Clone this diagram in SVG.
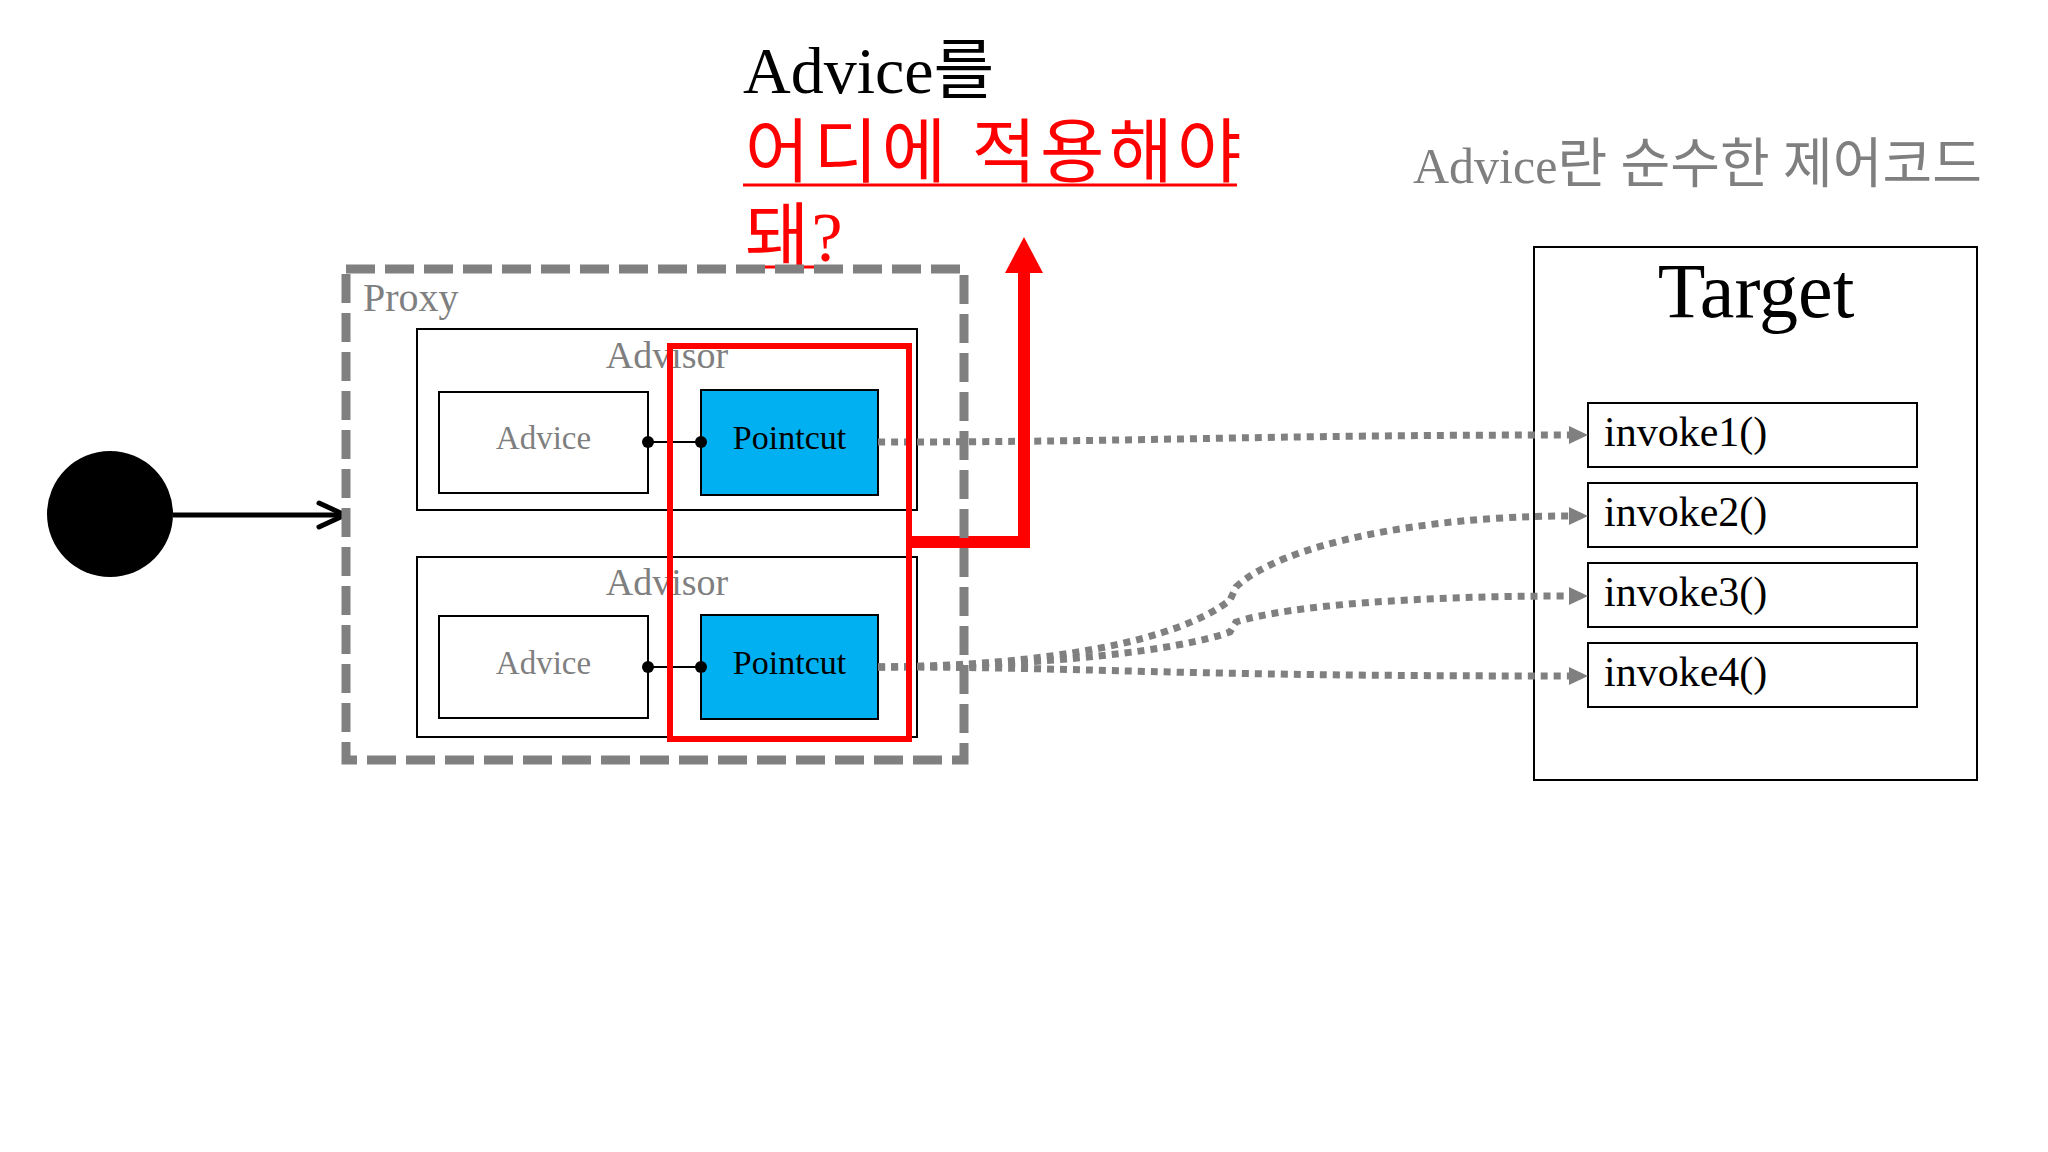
<svg xmlns="http://www.w3.org/2000/svg" width="2048" height="1152" viewBox="0 0 2048 1152">
  <defs>
    <style>
      .serif { font-family: 'Liberation Serif', 'Noto Sans CJK KR', serif; }
      .gray { fill: #7f7f7f; }
      .box { fill: #ffffff; stroke: #000000; stroke-width: 2; }
      .pc { fill: #00b0f0; stroke: #000000; stroke-width: 2; }
      .dot { fill: #000000; }
      .dotted { fill: none; stroke: #808080; stroke-width: 7; stroke-dasharray: 7 6; }
      .link { stroke: #000000; stroke-width: 2; }
      .uline { stroke: #ff0000; stroke-width: 3; }
    </style>
    <marker id="tri" viewBox="0 0 19 18" refX="0" refY="9" markerWidth="19" markerHeight="18" markerUnits="userSpaceOnUse" orient="auto">
      <path d="M0,0 L19,9 L0,18 Z" fill="#808080"/>
    </marker>
  </defs>
  <rect x="0" y="0" width="2048" height="1152" fill="#ffffff"/>

  <g id="title">
    <text class="serif" x="743" y="93" font-size="66" fill="#000000">Advice를</text>
    <text class="serif" x="745" y="177" font-size="70" fill="#ff0000" letter-spacing="4">어디에 적용해야</text>
    <line class="uline" x1="743" y1="185" x2="1237" y2="185"/>
    <text class="serif" x="745" y="261" font-size="70" fill="#ff0000" letter-spacing="2">돼?</text>
    <line class="uline" x1="743" y1="267" x2="840" y2="267"/>
  </g>

  <g id="note">
    <text class="serif gray" x="1413" y="183" font-size="50">Advice<tspan font-size="54">란 순수한 제어코드</tspan></text>
  </g>

  <g id="client">
    <circle cx="110" cy="514" r="63" fill="#000000"/>
  </g>

  <g id="advisor1">
    <rect class="box" x="417" y="329" width="500" height="181"/>
    <text class="serif gray" x="667" y="368" font-size="38" text-anchor="middle">Advisor</text>
  </g>
  <g id="advice1">
    <rect class="box" x="439" y="392" width="209" height="101"/>
    <text class="serif gray" x="543.5" y="449" font-size="33" text-anchor="middle">Advice</text>
  </g>
  <g id="pointcut1">
    <rect class="pc" x="701" y="390" width="177" height="105"/>
    <text class="serif" x="789.5" y="449" font-size="34" text-anchor="middle" fill="#000000">Pointcut</text>
  </g>

  <g id="advisor2">
    <rect class="box" x="417" y="557" width="500" height="180"/>
    <text class="serif gray" x="667" y="595" font-size="38" text-anchor="middle">Advisor</text>
  </g>
  <g id="advice2">
    <rect class="box" x="439" y="616" width="209" height="102"/>
    <text class="serif gray" x="543.5" y="674" font-size="33" text-anchor="middle">Advice</text>
  </g>
  <g id="pointcut2">
    <rect class="pc" x="701" y="615" width="177" height="104"/>
    <text class="serif" x="789.5" y="674" font-size="34" text-anchor="middle" fill="#000000">Pointcut</text>
  </g>

  <g id="target">
    <rect x="1534" y="247" width="443" height="533" fill="none" stroke="#000000" stroke-width="2"/>
    <text class="serif" x="1756" y="317" font-size="78" text-anchor="middle" fill="#000000">Target</text>
  </g>
  <g id="invoke1">
    <rect class="box" x="1588" y="403" width="329" height="64"/>
    <text class="serif" x="1604" y="446" font-size="42" fill="#000000">invoke1()</text>
  </g>
  <g id="invoke2">
    <rect class="box" x="1588" y="483" width="329" height="64"/>
    <text class="serif" x="1604" y="526" font-size="42" fill="#000000">invoke2()</text>
  </g>
  <g id="invoke3">
    <rect class="box" x="1588" y="563" width="329" height="64"/>
    <text class="serif" x="1604" y="606" font-size="42" fill="#000000">invoke3()</text>
  </g>
  <g id="invoke4">
    <rect class="box" x="1588" y="643" width="329" height="64"/>
    <text class="serif" x="1604" y="686" font-size="42" fill="#000000">invoke4()</text>
  </g>

  <g id="connectors">
    <line class="link" x1="648" y1="442" x2="701" y2="442"/>
    <circle class="dot" cx="648" cy="442" r="6"/>
    <circle class="dot" cx="701" cy="442" r="6"/>
    <line class="link" x1="648" y1="667" x2="701" y2="667"/>
    <circle class="dot" cx="648" cy="667" r="6"/>
    <circle class="dot" cx="701" cy="667" r="6"/>

    <path class="dotted" d="M878,442 C1150,442 1250,435 1569,435" marker-end="url(#tri)"/>
    <path class="dotted" d="M878,667 C1050,666 1180,640 1230,600 L1236,587 C1280,545 1420,516 1569,516" marker-end="url(#tri)"/>
    <path class="dotted" d="M878,667 C1050,666 1180,650 1230,632 L1236,622 C1290,605 1420,596 1569,596" marker-end="url(#tri)"/>
    <path class="dotted" d="M878,667 C1100,667 1150,676 1569,676" marker-end="url(#tri)"/>

    <line x1="173" y1="515" x2="344" y2="515" stroke="#000000" stroke-width="5"/>
    <polyline points="319,503 345,515 319,527" fill="none" stroke="#000000" stroke-width="5" stroke-linecap="round" stroke-linejoin="round"/>

    <path d="M909,542 H1024 V270" fill="none" stroke="#ff0000" stroke-width="12" stroke-linejoin="miter"/>
    <polygon points="1005,273 1024,237 1043,273" fill="#ff0000"/>
  </g>

  <g id="highlight">
    <rect x="670" y="346" width="239" height="393" fill="none" stroke="#ff0000" stroke-width="6"/>
  </g>

  <g id="proxy">
    <rect x="346" y="269" width="618" height="491" fill="none" stroke="#808080" stroke-width="9" stroke-dasharray="29 10"/>
    <text class="serif gray" x="363" y="311" font-size="40">Proxy</text>
  </g>
</svg>
